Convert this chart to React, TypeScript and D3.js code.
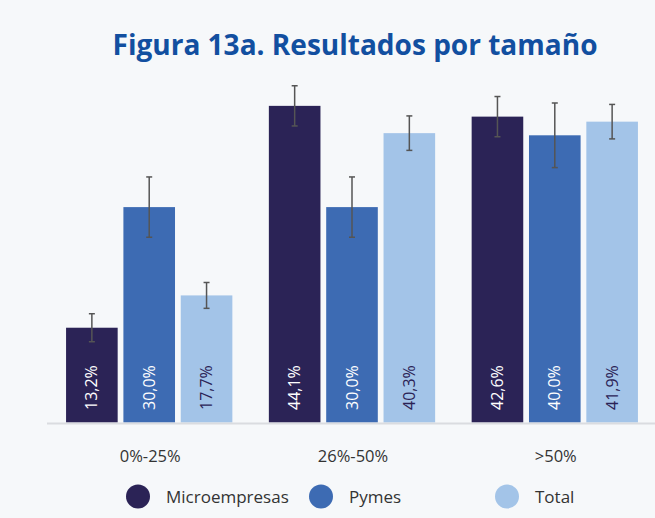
import React from "react";
import * as d3 from "d3";

const categories = ["0%-25%", "26%-50%", ">50%"];
const seriesNames = ["Microempresas", "Pymes", "Total"];
const microValues = [13.2, 44.1, 42.6];
const pymesValues = [30.0, 30.0, 40.0];
const totalValues = [17.7, 40.3, 41.9];
const microErrors = [1.95, 2.8, 2.8];
const pymesErrors = [4.2, 4.2, 4.5];
const totalErrors = [1.8, 2.4, 2.4];
const colors = ["#2B2356", "#3D6BB3", "#A3C4E8"];
const labelColors = ["#ffffff", "#ffffff", "#2B2356"];

const W = 655;
const H = 518;
const baseline = 422.5;

export default function App() {
  const values = [microValues, pymesValues, totalValues];
  const errors = [microErrors, pymesErrors, totalErrors];
  const x0 = d3.scaleBand<string>().domain(categories).range([47, 657]).paddingInner(0.18).paddingOuter(0.094);
  const x1 = d3.scaleBand<string>().domain(seriesNames).range([0, x0.bandwidth()]).paddingInner(0.1);
  const y = d3.scaleLinear().domain([0, 10]).range([baseline, baseline - 71.8]);
  const fmt = (v: number) => v.toFixed(1).replace(".", ",") + "%";
  const legendX = [138, 321, 507];
  const font = "'Open Sans', 'Noto Sans', sans-serif";

  return (
    <svg width={W} height={H} style={{ position: "absolute", left: 0, top: 0, background: "#F6F8FA" }} fontFamily={font}>
      <rect x={0} y={0} width={W} height={H} fill="#F6F8FA" />
      <text x={355} y={55} textAnchor="middle" fontSize={28} fontWeight={700} fill="#124FA0" textLength={485} lengthAdjust="spacingAndGlyphs">
        Figura 13a. Resultados por tamaño
      </text>
      {categories.map((c, ci) => (
        <g key={c} transform={`translate(${x0(c)},0)`}>
          {seriesNames.map((s, si) => {
            const v = values[si][ci];
            const e = errors[si][ci];
            const bx = x1(s)!;
            const bw = x1.bandwidth();
            const cx = bx + bw / 2;
            return (
              <g key={s}>
                <rect x={bx} y={y(v)} width={bw} height={baseline - y(v)} fill={colors[si]} />
                <line x1={cx} x2={cx} y1={y(v + e)} y2={y(v - e)} stroke="#555" strokeWidth={1.5} />
                <line x1={cx - 3} x2={cx + 3} y1={y(v + e)} y2={y(v + e)} stroke="#555" strokeWidth={1.5} />
                <line x1={cx - 3} x2={cx + 3} y1={y(v - e)} y2={y(v - e)} stroke="#555" strokeWidth={1.5} />
                <text
                  transform={`translate(${cx + 5.5},${baseline - 12.5}) rotate(-90)`}
                  fontSize={16}
                  fill={labelColors[si]}
                >
                  {fmt(v)}
                </text>
              </g>
            );
          })}
          <text x={x0.bandwidth() / 2 + 1} y={462} textAnchor="middle" fontSize={16.5} fill="#333">
            {c}
          </text>
        </g>
      ))}
      <line x1={47} x2={655} y1={baseline + 1} y2={baseline + 1} stroke="#DADCE0" strokeWidth={2} />
      {seriesNames.map((s, i) => (
        <g key={s}>
          <circle cx={legendX[i]} cy={496.5} r={12} fill={colors[i]} />
          <text x={legendX[i] + 28} y={502.5} fontSize={17} fill="#333">
            {s}
          </text>
        </g>
      ))}
    </svg>
  );
}
